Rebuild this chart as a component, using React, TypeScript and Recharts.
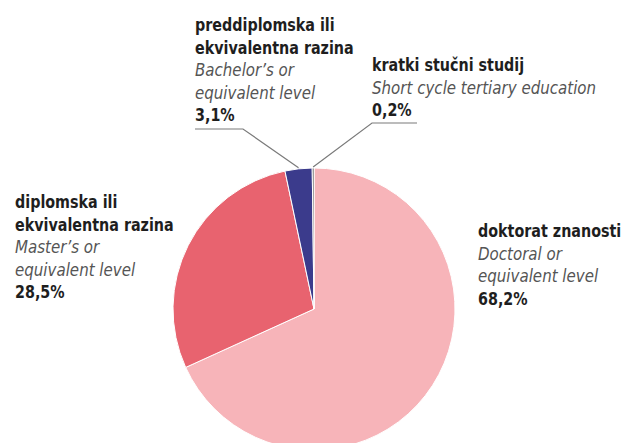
import React from "react";
import { PieChart, Pie, Cell } from "recharts";

// Education level shares (%)
const levelsHr = [
  ["doktorat znanosti"],
  ["diplomska ili", "ekvivalentna razina"],
  ["preddiplomska ili", "ekvivalentna razina"],
  ["kratki stučni studij"],
];
const levelsEn = [
  ["Doctoral or", "equivalent level"],
  ["Master’s or", "equivalent level"],
  ["Bachelor’s or", "equivalent level"],
  ["Short cycle tertiary education"],
];
const shares = [68.2, 28.5, 3.1, 0.2];
const shareLabels = ["68,2%", "28,5%", "3,1%", "0,2%"];

const colors = ["#F7B4B9", "#E8636F", "#3B3B8C", "#3a3a3a"];

const data = shares.map((v, i) => ({ name: levelsHr[i].join(" "), value: v }));

// label text block positions (x, first baseline) and optional leader elbow
const labelPos = [
  { x: 478, y: 237, elbow: null as null | number[] },
  { x: 15, y: 208, elbow: null as null | number[] },
  { x: 195, y: 31, elbow: [243, 129, 195, 129] },
  { x: 372, y: 71, elbow: [372, 123, 417, 123] },
];

const FONT = "'DejaVu Sans Condensed', 'DejaVu Sans', sans-serif";
const LH = 22.5;
const RAD = Math.PI / 180;

const Line = ({ x, y, text, bold }: { x: number; y: number; text: string; bold: boolean }) => (
  <text
    transform={`translate(${x},${y}) scale(${bold ? 0.86 : 0.93},1)`}
    fontFamily={FONT}
    fontSize={bold ? 18.5 : 18}
    fontWeight={bold ? "bold" : "normal"}
    fontStyle={bold ? "normal" : "italic"}
    fill={bold ? "#1e1e1e" : "#555"}
  >
    {text}
  </text>
);

const renderLabel = (props: any) => {
  const { cx, cy, midAngle, outerRadius, index } = props;
  const pos = labelPos[index];
  let line = null;
  if (pos.elbow) {
    const ex = cx + outerRadius * Math.cos(-midAngle * RAD);
    const ey = cy + outerRadius * Math.sin(-midAngle * RAD);
    const [x1, y1, x2, y2] = pos.elbow;
    line = (
      <polyline
        points={`${ex},${ey - 1} ${x1},${y1} ${x2},${y2}`}
        fill="none"
        stroke="#7a7a7a"
        strokeWidth={1.2}
      />
    );
  }
  const rows = [
    ...levelsHr[index].map((t) => ({ t, bold: true })),
    ...levelsEn[index].map((t) => ({ t, bold: false })),
    { t: shareLabels[index], bold: true },
  ];
  return (
    <g key={"lbl" + index}>
      {line}
      {rows.map((r, k) => (
        <Line key={k} x={pos.x} y={pos.y + k * LH} text={r.t} bold={r.bold} />
      ))}
    </g>
  );
};

export default function App() {
  return (
    <div style={{ position: "absolute", left: 0, top: 0, width: 622, height: 443, background: "#fff", overflow: "hidden" }}>
      <PieChart width={622} height={443} margin={{ top: 0, right: 0, bottom: 0, left: 0 }}>
        <Pie
          data={data}
          dataKey="value"
          cx={314}
          cy={309}
          outerRadius={141}
          startAngle={90}
          endAngle={-270}
          stroke="#ffffff"
          strokeWidth={1}
          label={renderLabel}
          labelLine={false}
          isAnimationActive={false}
        >
          {data.map((_, i) => (
            <Cell key={i} fill={colors[i]} />
          ))}
        </Pie>
      </PieChart>
    </div>
  );
}
